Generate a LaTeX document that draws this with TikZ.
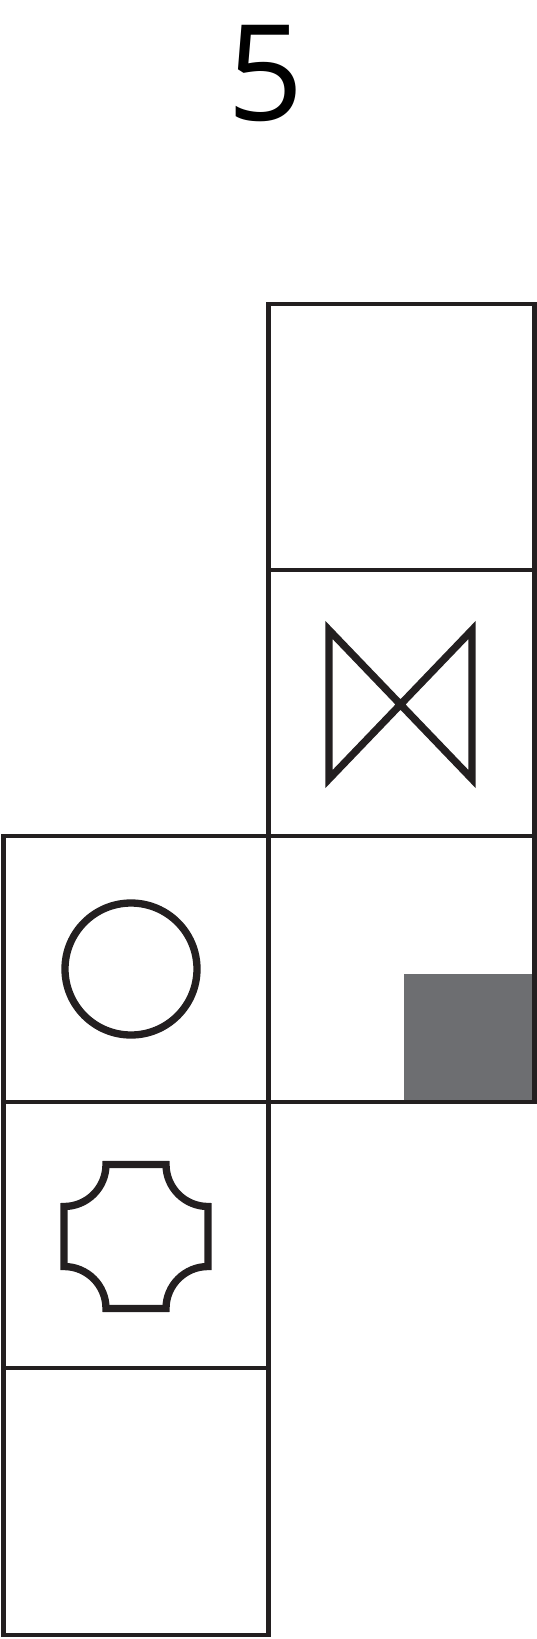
\documentclass[tikz,border=0pt]{standalone}
\usepackage{fontspec}
\setmainfont{Open Sans}
\usepackage{tikz}
\definecolor{inkclr} {RGB}{35, 31, 32}
\definecolor{shadeclr}{RGB}{109, 110, 113}

\tikzset{
  cell/.style={draw=inkclr, line width=0.032cm},
  glyph/.style={draw=inkclr, line width=0.055cm, miter limit=10},
}

\begin{document}
\begin{tikzpicture}[x=0.0075cm, y=-0.0075cm]
  \useasboundingbox (0,0) rectangle (537,1639);
  % number on top
  \node[black, font=\fontsize{28.5}{32}\selectfont] (num) at (266,74) {5};
  % shaded quarter, under the grid lines
  \fill[shadeclr] (404,974) rectangle (534.5,1102);
  % right column, rows 1-3
  \draw[cell] (268.5,304) rectangle (534.5,570);
  \draw[cell] (268.5,570) rectangle (534.5,836);
  \draw[cell] (268.5,836) rectangle (534.5,1102);
  % left column, rows 3-5
  \draw[cell] (3.5,836) rectangle (268.5,1102);
  \draw[cell] (3.5,1102) rectangle (268.5,1368);
  \draw[cell] (3.5,1368) rectangle (268.5,1635);
  % bow tie
  \draw[glyph] (329,630) -- (472,779) -- (472,630) -- (329,779) -- cycle;
  % circle
  \draw[glyph] (131,969) circle (66);
  % notched square
  \draw[glyph] (106,1164.5) -- (166,1164.5)
    arc[start angle=180, end angle=90, radius=42] -- (208,1266.5)
    arc[start angle=270, end angle=180, radius=42] -- (106,1308.5)
    arc[start angle=0, end angle=-90, radius=42] -- (64,1206.5)
    arc[start angle=90, end angle=0, radius=42] -- cycle;
\end{tikzpicture}
\end{document}
